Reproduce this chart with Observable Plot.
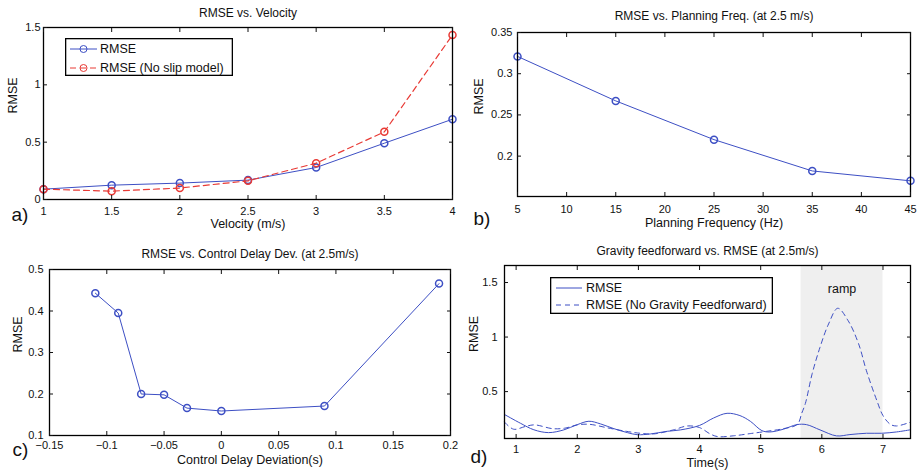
<!DOCTYPE html>
<html><head><meta charset="utf-8">
<script src="https://cdn.jsdelivr.net/npm/d3@7"></script>
<script src="https://cdn.jsdelivr.net/npm/@observablehq/plot@0.6"></script>
<style>
body{margin:0;background:#fff;font-family:"Liberation Sans",Arial,sans-serif;}
#wrap{position:relative;width:921px;height:472px;overflow:hidden;background:#fff;}
.panel{position:absolute;}
.legend{position:absolute;}
</style></head><body><div id="wrap"></div>
<script>
// ---- Panel a: RMSE vs Velocity ----
const velocity = [1, 1.5, 2, 2.5, 3, 3.5, 4];
const rmseVel = [0.09, 0.125, 0.143, 0.169, 0.279, 0.491, 0.70];
const rmseVelNoSlip = [0.09, 0.073, 0.10, 0.163, 0.317, 0.59, 1.435];
const aXTicks = [1, 1.5, 2, 2.5, 3, 3.5, 4];
const aYTicks = [0, 0.5, 1, 1.5];

// ---- Panel b: RMSE vs Planning frequency ----
const planFreq = [5, 15, 25, 35, 45];
const rmseFreq = [0.321, 0.267, 0.220, 0.182, 0.170];
const bXTicks = [5, 10, 15, 20, 25, 30, 35, 40, 45];
const bYTicks = [0.2, 0.25, 0.3, 0.35];

// ---- Panel c: RMSE vs control delay deviation ----
const delayDev = [-0.11, -0.09, -0.07, -0.05, -0.03, 0, 0.09, 0.19];
const rmseDelay = [0.443, 0.395, 0.200, 0.198, 0.166, 0.159, 0.171, 0.466];
const cXTicks = [-0.15, -0.1, -0.05, 0, 0.05, 0.1, 0.15, 0.2];
const cYTicks = [0.1, 0.2, 0.3, 0.4, 0.5];

// ---- Panel d: Gravity feedforward vs RMSE ----
const timeGF = [0.81, 1.07, 1.29, 1.53, 1.78, 2.0, 2.19, 2.38, 2.6, 2.82, 2.98, 3.2, 3.47, 3.69, 4.0, 4.23, 4.45, 4.66, 4.83, 5.02, 5.15, 5.37, 5.59, 5.75, 5.97, 6.24, 6.46, 6.73, 6.98, 7.22, 7.45];
const rmseGF = [0.29, 0.21, 0.15, 0.124, 0.149, 0.197, 0.228, 0.204, 0.16, 0.124, 0.105, 0.112, 0.136, 0.149, 0.19, 0.258, 0.301, 0.28, 0.228, 0.142, 0.13, 0.155, 0.197, 0.197, 0.149, 0.094, 0.106, 0.118, 0.118, 0.13, 0.15];
const timeNoGF = [0.81, 0.96, 1.15, 1.3, 1.6, 1.8, 2.0, 2.2, 2.5, 2.8, 3.03, 3.25, 3.58, 3.8, 4.0, 4.18, 4.3, 4.56, 4.83, 5.1, 5.37, 5.6, 5.67, 5.73, 5.84, 5.97, 6.11, 6.26, 6.43, 6.6, 6.73, 6.9, 7.0, 7.12, 7.22, 7.45];
const rmseNoGF = [0.22, 0.155, 0.18, 0.195, 0.16, 0.165, 0.195, 0.2, 0.167, 0.136, 0.118, 0.112, 0.15, 0.185, 0.17, 0.11, 0.087, 0.095, 0.115, 0.136, 0.16, 0.2, 0.3, 0.39, 0.66, 0.906, 1.12, 1.264, 1.15, 0.94, 0.69, 0.417, 0.28, 0.2, 0.185, 0.22];
const rampStart = 5.66, rampEnd = 7.0;
const dXTicks = [1, 2, 3, 4, 5, 6, 7];
const dYTicks = [0.5, 1, 1.5];

const BLUE = "#3d4fc4", RED = "#e83a35";
const FONT = "Liberation Sans, Arial, sans-serif";
const fmt = d => (d < 0 ? "\u2212" : "") + String(Math.abs(d));

const zip = (xs, ys) => xs.map((x, i) => ({x, y: ys[i]}));

function panel(cfg) {
  const [mt, mr, mb, ml] = cfg.margins;
  const axes = [
    Plot.axisX(cfg.xTicks, {anchor: "bottom", tickSize: -4, tickPadding: cfg.xPad, fontSize: 11, label: null, tickFormat: fmt}),
    Plot.axisX(cfg.xTicks, {anchor: "top", tickSize: -4, label: null, tickFormat: () => ""}),
    Plot.axisY(cfg.yTicks, {anchor: "left", tickSize: -4, tickPadding: cfg.yPad, fontSize: 11, label: null, tickFormat: fmt}),
    Plot.axisY(cfg.yTicks, {anchor: "right", tickSize: -4, label: null, tickFormat: () => ""})
  ];
  const texts = [
    Plot.text([cfg.title], {text: d => d, frameAnchor: "top", lineAnchor: "middle", dy: cfg.titleDy, fontSize: 12}),
    Plot.text([cfg.xlabel], {text: d => d, frameAnchor: "bottom", lineAnchor: "middle", dy: cfg.xlabelDy, fontSize: 12.5}),
    Plot.text([cfg.ylabel], {text: d => d, frameAnchor: "left", lineAnchor: "middle", dx: cfg.ylabelDx, rotate: -90, fontSize: 12.5}),
    Plot.text([cfg.letter], {text: d => d, frameAnchor: "bottom-left", lineAnchor: "middle", textAnchor: "start", dx: cfg.letterDx, dy: cfg.letterDy, fontSize: 19})
  ];
  const svg = Plot.plot({
    width: cfg.width, height: cfg.height,
    marginTop: mt, marginRight: mr, marginBottom: mb, marginLeft: ml,
    style: {fontFamily: FONT, color: "#111", background: "transparent", overflow: "visible"},
    x: {domain: cfg.xDomain},
    y: {domain: cfg.yDomain},
    marks: [...cfg.marks, Plot.frame({stroke: "#000", strokeWidth: 1.3}), ...axes, ...texts]
  });
  const div = document.createElement("div");
  div.className = "panel";
  div.style.left = cfg.left + "px";
  div.style.top = cfg.top + "px";
  div.appendChild(svg);
  document.getElementById("wrap").appendChild(div);
}

function legend(cfg) {
  const svg = d3.create("svg").attr("width", cfg.width).attr("height", cfg.height)
    .attr("class", "legend").style("left", cfg.left + "px").style("top", cfg.top + "px");
  svg.append("rect").attr("x", 0.65).attr("y", 0.65).attr("width", cfg.width - 1.3).attr("height", cfg.height - 1.3)
    .attr("fill", "#fff").attr("stroke", "#000").attr("stroke-width", 1.3);
  cfg.items.forEach((it, i) => {
    const y = cfg.rows[i];
    svg.append("line").attr("x1", cfg.x1).attr("x2", cfg.x2).attr("y1", y).attr("y2", y)
      .attr("stroke", it.color).attr("stroke-width", 1).attr("stroke-dasharray", it.dash || null);
    if (it.marker) svg.append("circle").attr("cx", (cfg.x1 + cfg.x2) / 2).attr("cy", y).attr("r", 3.5)
      .attr("fill", "none").attr("stroke", it.color);
    svg.append("text").attr("x", cfg.tx).attr("y", y).attr("dy", "0.35em").attr("font-size", 12.5)
      .attr("font-family", FONT).attr("fill", "#111").text(it.label);
  });
  document.getElementById("wrap").appendChild(svg.node());
}

// Panel a
const aData1 = zip(velocity, rmseVel), aData2 = zip(velocity, rmseVelNoSlip);
panel({
  left: 0, top: 0, width: 460, height: 236, margins: [27, 8, 37, 43],
  xDomain: [1, 4], yDomain: [0, 1.5], xTicks: aXTicks, yTicks: aYTicks, xPad: 11.5, yPad: 7,
  title: "RMSE vs. Velocity", titleDy: -14, xlabel: "Velocity (m/s)", xlabelDy: 24,
  ylabel: "RMSE", ylabelDx: -31, letter: "a)", letterDx: -32, letterDy: 15,
  marks: [
    Plot.line(aData1, {x: "x", y: "y", stroke: BLUE, strokeWidth: 1}),
    Plot.dot(aData1, {x: "x", y: "y", r: 3.5, stroke: BLUE, fill: "none"}),
    Plot.line(aData2, {x: "x", y: "y", stroke: RED, strokeWidth: 1.2, strokeDasharray: "6,4"}),
    Plot.dot(aData2, {x: "x", y: "y", r: 3.5, stroke: RED, fill: "none"})
  ]
});
legend({left: 65, top: 38, width: 168, height: 38, x1: 5, x2: 32, tx: 35, rows: [11, 30],
  items: [{label: "RMSE", color: BLUE, marker: true}, {label: "RMSE (No slip model)", color: RED, marker: true, dash: "6,4"}]});

// Panel b
const bData = zip(planFreq, rmseFreq);
panel({
  left: 460, top: 0, width: 461, height: 236, margins: [32, 11, 40, 57],
  xDomain: [5, 45], yDomain: [0.151, 0.35], xTicks: bXTicks, yTicks: bYTicks, xPad: 13, yPad: 9,
  title: "RMSE vs. Planning Freq. (at 2.5 m/s)", titleDy: -16, xlabel: "Planning Frequency (Hz)", xlabelDy: 26,
  ylabel: "RMSE", ylabelDx: -39, letter: "b)", letterDx: -44, letterDy: 22,
  marks: [
    Plot.line(bData, {x: "x", y: "y", stroke: BLUE, strokeWidth: 1}),
    Plot.dot(bData, {x: "x", y: "y", r: 3.5, stroke: BLUE, fill: "none"})
  ]
});

// Panel c
const cData = zip(delayDev, rmseDelay);
panel({
  left: 0, top: 236, width: 460, height: 236, margins: [33, 10, 37, 49],
  xDomain: [-0.15, 0.2], yDomain: [0.1, 0.5], xTicks: cXTicks, yTicks: cYTicks, xPad: 10, yPad: 10,
  title: "RMSE vs. Control Delay Dev. (at 2.5m/s)", titleDy: -15, xlabel: "Control Delay Deviation(s)", xlabelDy: 24,
  ylabel: "RMSE", ylabelDx: -32, letter: "c)", letterDx: -37, letterDy: 14,
  marks: [
    Plot.line(cData, {x: "x", y: "y", stroke: BLUE, strokeWidth: 1}),
    Plot.dot(cData, {x: "x", y: "y", r: 3.5, stroke: BLUE, fill: "none"})
  ]
});

// Panel d
const dData1 = zip(timeGF, rmseGF), dData2 = zip(timeNoGF, rmseNoGF);
panel({
  left: 460, top: 236, width: 461, height: 236, margins: [29, 11, 34, 44],
  xDomain: [0.81, 7.45], yDomain: [0.07, 1.656], xTicks: dXTicks, yTicks: dYTicks, xPad: 11, yPad: 11,
  title: "Gravity feedforward vs. RMSE (at 2.5m/s)", titleDy: -14, xlabel: "Time(s)", xlabelDy: 24,
  ylabel: "RMSE", ylabelDx: -31, letter: "d)", letterDx: -34, letterDy: 18,
  marks: [
    Plot.rect([{x1: rampStart, x2: rampEnd}], {x1: "x1", x2: "x2", fill: "#efefef"}),
    Plot.text(["ramp"], {text: d => d, x: (rampStart + rampEnd) / 2, frameAnchor: "top", lineAnchor: "middle", dy: 23, fontSize: 12.5}),
    Plot.line(dData1, {x: "x", y: "y", stroke: BLUE, strokeWidth: 1, curve: "catmull-rom"}),
    Plot.line(dData2, {x: "x", y: "y", stroke: BLUE, strokeWidth: 1, strokeDasharray: "5,4", curve: "catmull-rom"})
  ]
});
legend({left: 550, top: 277, width: 223, height: 37, x1: 6, x2: 32, tx: 36, rows: [11, 28],
  items: [{label: "RMSE", color: BLUE}, {label: "RMSE (No Gravity Feedforward)", color: BLUE, dash: "5,4"}]});
</script></body></html>
